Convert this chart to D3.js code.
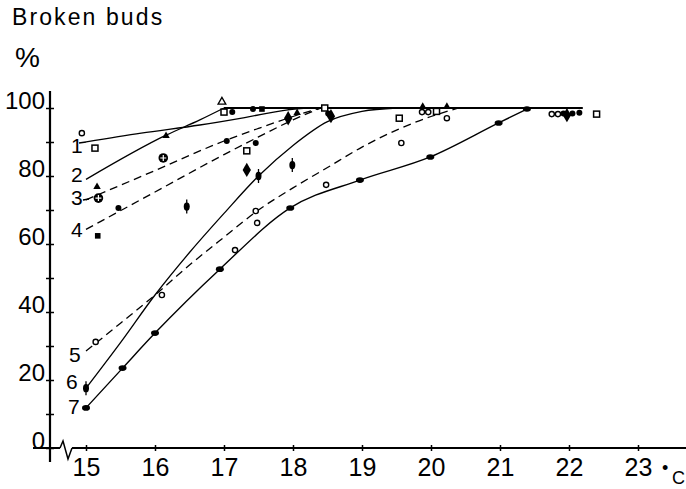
<!DOCTYPE html>
<html>
<head>
<meta charset="utf-8">
<script src="https://cdn.jsdelivr.net/npm/d3@7"></script>
<style>
  html, body { margin: 0; padding: 0; background: #fff; }
  svg { display: block; }
  text { font-family: "Liberation Sans", Arial, sans-serif; fill: #000; }
</style>
</head>
<body>
<svg id="chart" width="686" height="489"></svg>
<script>
// Temperature (°C) and percentage ticks
const tempTicks = [15, 16, 17, 18, 19, 20, 21, 22, 23];
const pctTicks = [0, 10, 20, 30, 40, 50, 60, 70, 80, 90, 100];

// Fitted curves: [temperature, % broken buds]
const curve1 = [[15, 90], [15.8, 92.6], [16.65, 95], [17.3, 97.2], [17.9, 99.4], [18.2, 100]];
const curve2 = [[15, 79], [16.16, 92], [16.65, 96.5], [17, 100]];
const plateau = [[17, 100], [22.2, 100]];
const curve3 = [[15, 73], [16, 81.6], [17, 90.3], [17.5, 94], [18, 97.5], [18.4, 100]];
const curve4 = [[15, 64.3], [16, 75.3], [17, 86.3], [17.5, 91.5], [18, 96.5], [18.4, 100]];
const curve5 = [[15, 28.5], [15.5, 36.7], [16, 45], [16.5, 53.8], [17, 62], [17.5, 70], [18, 76.5],
                [18.5, 82.5], [19, 88.5], [19.5, 93.5], [20, 97.5], [20.4, 100]];
const curve6 = [[15, 17.6], [15.5, 31], [16, 45], [16.5, 57.5], [17, 69], [17.5, 80], [18, 89],
                [18.5, 96], [19, 99], [19.5, 100]];
const curve7 = [[15, 11.8], [15.53, 23.5], [16, 33.8], [16.94, 52.6], [17.96, 70.6], [18.97, 78.8],
                [19.99, 85.6], [20.98, 95.6], [21.39, 99.7]];

// Observations, grouped by marker
const openCircles = [[14.94, 92.6], [15.14, 31.2], [16.1, 45], [17.16, 58.2], [17.46, 69.7], [17.48, 66.2],
                     [18.48, 77.4], [19.57, 89.7], [19.87, 98.8], [19.96, 98.8], [20.23, 97],
                     [21.75, 98.2], [21.84, 98.2]];
const openSquares = [[15.13, 88.2], [17.33, 87.4], [17.0, 98.8], [18.46, 100], [19.54, 97], [20.08, 99],
                     [22.4, 98.2]];
const openTriangles = [[16.97, 101.8]];
const filledTriangles = [[15.16, 76.8], [16.16, 91.8], [18.06, 98.6], [19.88, 100.4], [20.23, 100.4]];
const crossedCircles = [[15.18, 73.5], [16.12, 85.3]];
const filledDiamonds = [[17.33, 81.8], [17.93, 97], [18.55, 97.6], [21.97, 97.9]];
const filledDots = [[15.47, 70.6], [17.04, 90.3], [17.46, 89.7], [17.12, 98.8], [17.42, 99.7],
                    [18.51, 98.4], [21.92, 98.4], [22.05, 98.4], [22.15, 98.6]];
const filledSquares = [[15.17, 62.4], [17.55, 99.7]];
const tickedDots = [[15, 17.6], [16.46, 71], [17.5, 80], [17.99, 83.2]];

const svg = d3.select("#chart");

const x = d3.scaleLinear().domain([15, 23]).range([86, 638]);
const y = d3.scaleLinear().domain([0, 100]).range([448, 108]);

// Titles
svg.append("text").attr("x", 12).attr("y", 25)
  .style("font-size", "23px").style("letter-spacing", "2.1px").text("Broken buds");
svg.append("text").attr("x", 15).attr("y", 67)
  .style("font-size", "28px").text("%");

// Axis lines with the break on the temperature axis
const axisG = svg.append("g").attr("stroke", "#000").attr("fill", "none");
axisG.append("line").attr("x1", 50).attr("x2", 50).attr("y1", 91).attr("y2", 462).attr("stroke-width", 2.2);
axisG.append("line").attr("x1", 33).attr("x2", 60).attr("y1", 448).attr("y2", 448).attr("stroke-width", 2);
axisG.append("path").attr("d", "M60,448 L63,441 L68,459 L72,448").attr("stroke-width", 1.5);
axisG.append("line").attr("x1", 72).attr("x2", 686).attr("y1", 448).attr("y2", 448).attr("stroke-width", 2);

// X axis ticks & labels
const gx = svg.append("g").attr("transform", "translate(0,448)")
  .call(d3.axisBottom(x).tickValues(tempTicks).tickSize(3).tickSizeOuter(0).tickFormat(d3.format("d")));
gx.select(".domain").remove();
gx.attr("font-family", null).attr("font-size", null);
gx.selectAll(".tick line").attr("y1", -3).attr("stroke-width", 1.5);
gx.selectAll(".tick text").attr("y", 28).attr("dy", 0).style("font-size", "25px");

// Y axis ticks & labels
const gy = svg.append("g").attr("transform", "translate(50,0)")
  .call(d3.axisLeft(y).tickValues(pctTicks).tickSize(4).tickSizeOuter(0)
    .tickFormat(d => (d % 20 === 0 ? d : "")));
gy.select(".domain").remove();
gy.attr("font-family", null).attr("font-size", null);
gy.selectAll(".tick line").attr("x1", 4).attr("stroke-width", 1.5);
gy.selectAll(".tick text").attr("x", -5).attr("dy", 0).style("font-size", "24px");

// Degree unit
svg.append("text").attr("x", 662).attr("y", 474).style("font-size", "18px").text("•");
svg.append("text").attr("x", 672).attr("y", 484).style("font-size", "18px").text("C");

// Curves
const line = d3.line().x(d => x(d[0])).y(d => y(d[1])).curve(d3.curveMonotoneX);
const curves = [
  { data: curve1, dash: null, w: 1.3 },
  { data: curve2, dash: null, w: 1.3 },
  { data: plateau, dash: null, w: 2.2 },
  { data: curve3, dash: "8,5", w: 1.3 },
  { data: curve4, dash: "8,5", w: 1.3 },
  { data: curve5, dash: "8,5", w: 1.3 },
  { data: curve6, dash: null, w: 1.3 },
  { data: curve7, dash: null, w: 1.4 }
];
svg.append("g").selectAll("path").data(curves).join("path")
  .attr("d", d => line(d.data))
  .attr("fill", "none").attr("stroke", "#000")
  .attr("stroke-width", d => d.w)
  .attr("stroke-dasharray", d => d.dash);

// Curve numbers
const curveLabels = [
  { t: "1", x: 71, y: 153 }, { t: "2", x: 71, y: 182 }, { t: "3", x: 71, y: 205 },
  { t: "4", x: 71, y: 237 }, { t: "5", x: 69, y: 362 }, { t: "6", x: 66, y: 389 }, { t: "7", x: 68, y: 414 }
];
svg.append("g").selectAll("text").data(curveLabels).join("text")
  .attr("x", d => d.x).attr("y", d => d.y).style("font-size", "21px").text(d => d.t);
svg.append("line").attr("x1", 79).attr("x2", 86).attr("y1", 143).attr("y2", y(90)).attr("stroke", "#000").attr("stroke-width", 1.3);
svg.append("line").attr("x1", 83).attr("x2", 89).attr("y1", 200).attr("y2", 199).attr("stroke", "#000").attr("stroke-width", 1.3);

// Markers
const mk = svg.append("g");
const pos = d => `translate(${x(d[0])},${y(d[1])})`;

// Curve 7 observations
mk.selectAll(".c7").data(curve7).join("ellipse").attr("class", "c7")
  .attr("cx", d => x(d[0])).attr("cy", d => y(d[1])).attr("rx", 4).attr("ry", 2.8).attr("fill", "#000");

mk.selectAll(".oc").data(openCircles).join("circle").attr("class", "oc")
  .attr("cx", d => x(d[0])).attr("cy", d => y(d[1])).attr("r", 2.6)
  .attr("fill", "#fff").attr("stroke", "#000").attr("stroke-width", 1.4);

mk.selectAll(".os").data(openSquares).join("rect").attr("class", "os")
  .attr("x", d => x(d[0]) - 3).attr("y", d => y(d[1]) - 3).attr("width", 6).attr("height", 6)
  .attr("fill", "#fff").attr("stroke", "#000").attr("stroke-width", 1.5);

mk.selectAll(".ot").data(openTriangles).join("path").attr("class", "ot")
  .attr("transform", pos).attr("d", d3.symbol(d3.symbolTriangle, 26)())
  .attr("fill", "#fff").attr("stroke", "#000").attr("stroke-width", 1.3);

mk.selectAll(".ft").data(filledTriangles).join("path").attr("class", "ft")
  .attr("transform", pos).attr("d", d3.symbol(d3.symbolTriangle, 24)()).attr("fill", "#000");

mk.selectAll(".cc").data(crossedCircles).join("g").attr("class", "cc")
  .attr("transform", pos)
  .each(function () {
    const g = d3.select(this);
    g.append("circle").attr("r", 4.8).attr("fill", "#000");
    g.append("path").attr("d", "M-3,0H3M0,-3V3").attr("stroke", "#fff").attr("stroke-width", 1.2);
  });

mk.selectAll(".fd").data(filledDiamonds).join("path").attr("class", "fd")
  .attr("transform", pos).attr("d", d3.symbol(d3.symbolDiamond, 60)()).attr("fill", "#000");

mk.selectAll(".dot").data(filledDots).join("circle").attr("class", "dot")
  .attr("cx", d => x(d[0])).attr("cy", d => y(d[1])).attr("r", 3).attr("fill", "#000");

mk.selectAll(".fs").data(filledSquares).join("rect").attr("class", "fs")
  .attr("x", d => x(d[0]) - 2.8).attr("y", d => y(d[1]) - 2.8).attr("width", 5.6).attr("height", 5.6)
  .attr("fill", "#000");

mk.selectAll(".td").data(tickedDots).join("g").attr("class", "td")
  .attr("transform", pos)
  .each(function () {
    const g = d3.select(this);
    g.append("ellipse").attr("rx", 3).attr("ry", 4.2).attr("fill", "#000");
    g.append("line").attr("y1", -7).attr("y2", 7).attr("stroke", "#000").attr("stroke-width", 1.3);
  });
</script>
</body>
</html>
